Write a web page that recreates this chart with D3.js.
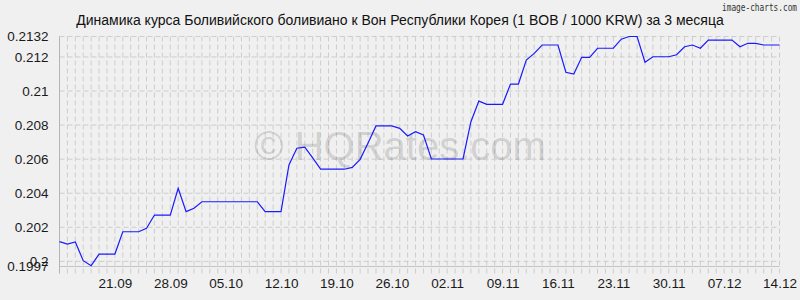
<!DOCTYPE html>
<html>
<head>
<meta charset="utf-8">
<script src="https://cdn.jsdelivr.net/npm/d3@7"></script>
<style>
  html, body { margin: 0; padding: 0; background: #f0f0f0; }
  svg { display: block; }
</style>
</head>
<body>
<svg id="chart"></svg>
<script>
    'use strict';

    var title = 'Динамика курса Боливийского боливиано к Вон Республики Корея (1 BOB / 1000 KRW) за 3 месяца';
    var startDay = '2020-09-14';
    var endDay = '2020-12-14';
    // one value per day, 14.09 .. 14.12
    var rates = [
        0.20116, 0.20102, 0.20114, 0.20004, 0.19975, 0.20043, 0.20043, 0.20043,
        0.20174, 0.20174, 0.20174, 0.20194, 0.20272, 0.20272, 0.20272, 0.20429,
        0.20292, 0.20312, 0.20350, 0.20350, 0.20350, 0.20350, 0.20350, 0.20350,
        0.20350, 0.20350, 0.20292, 0.20292, 0.20292, 0.20566, 0.20664, 0.20671,
        0.20607, 0.20541, 0.20541, 0.20541, 0.20541, 0.20552, 0.20599, 0.20695,
        0.20795, 0.20795, 0.20795, 0.20781, 0.20736, 0.20761, 0.20742, 0.20601,
        0.20601, 0.20601, 0.20601, 0.20601, 0.20820, 0.20941, 0.20922, 0.20922,
        0.20922, 0.21041, 0.21041, 0.21182, 0.21221, 0.21270, 0.21270, 0.21270,
        0.21110, 0.21100, 0.21198, 0.21198, 0.21251, 0.21251, 0.21251, 0.21304,
        0.21320, 0.21320, 0.21169, 0.21201, 0.21201, 0.21201, 0.21213, 0.21260,
        0.21270, 0.21251, 0.21299, 0.21299, 0.21299, 0.21299, 0.21260, 0.21280,
        0.21280, 0.21270, 0.21270, 0.21270
    ];
    var xTickLabels = ['21.09', '28.09', '05.10', '12.10', '19.10', '26.10', '02.11',
        '09.11', '16.11', '23.11', '30.11', '07.12', '14.12'];
    var yTickValues = [0.1997, 0.2, 0.202, 0.204, 0.206, 0.208, 0.21, 0.212, 0.2132];
    var yTickLabels = ['0.1997', '0.2', '0.202', '0.204', '0.206', '0.208', '0.21', '0.212', '0.2132'];

    (function() {
        var width = 800;
        var height = 300;
        var margin = { left: 59.5, right: 779.5, top: 36.5, bottom: 266.5 };
        var font = '"Liberation Sans", Arial, sans-serif';

        var parseDay = d3.utcParse('%Y-%m-%d');
        var parseLabel = d3.utcParse('%d.%m.%Y');
        var days = d3.utcDay.range(parseDay(startDay), d3.utcDay.offset(parseDay(endDay), 1));

        var scaleX = d3.scaleUtc()
            .domain([parseDay(startDay), parseDay(endDay)])
            .range([margin.left, margin.right]);

        var scaleY = d3.scaleLinear()
            .domain([yTickValues[0], yTickValues[yTickValues.length - 1]])
            .range([margin.bottom, margin.top]);

        var chart = d3.select('#chart')
            .attr('width', width)
            .attr('height', height)
            .style('font-family', font);

        chart.append('rect')
            .attr('width', width)
            .attr('height', height)
            .attr('fill', '#f0f0f0');

        // grid, one vertical line per day
        chart.append('g')
            .selectAll('line')
            .data(days)
            .join('line')
            .attr('x1', function(d) { return scaleX(d); })
            .attr('x2', function(d) { return scaleX(d); })
            .attr('y1', margin.top)
            .attr('y2', margin.bottom + 7)
            .attr('stroke', '#cdcdcd')
            .attr('stroke-dasharray', '5,3');

        chart.append('g')
            .selectAll('line')
            .data(yTickValues)
            .join('line')
            .attr('x1', margin.left)
            .attr('x2', margin.right)
            .attr('y1', function(d) { return scaleY(d); })
            .attr('y2', function(d) { return scaleY(d); })
            .attr('stroke', '#cdcdcd')
            .attr('stroke-dasharray', '5,3');

        // axis lines
        chart.append('line')
            .attr('x1', margin.left).attr('x2', margin.left)
            .attr('y1', margin.top).attr('y2', margin.bottom + 7)
            .attr('stroke', '#b4b4b4');
        chart.append('line')
            .attr('x1', margin.left).attr('x2', margin.right)
            .attr('y1', margin.bottom).attr('y2', margin.bottom)
            .attr('stroke', '#c4c4c4');

        // watermark
        chart.append('text')
            .attr('x', 400)
            .attr('y', 160)
            .attr('text-anchor', 'middle')
            .attr('font-size', 40)
            .attr('fill', '#000')
            .attr('fill-opacity', 0.15)
            .text('© HQRates.com');

        var line = d3.line()
            .x(function(d, i) { return scaleX(days[i]); })
            .y(function(d) { return scaleY(d); })
            .curve(d3.curveLinear);

        chart.append('path')
            .datum(rates)
            .attr('d', line)
            .attr('fill', 'none')
            .attr('stroke', '#1a1aff')
            .attr('stroke-width', 1.2);

        var yAxis = d3.axisLeft(scaleY)
            .tickValues(yTickValues)
            .tickFormat(function(d, i) { return yTickLabels[i]; })
            .tickSize(0)
            .tickPadding(11);

        chart.append('g')
            .attr('transform', 'translate(' + margin.left + ',0)')
            .call(yAxis)
            .call(function(g) { g.select('.domain').remove(); })
            .selectAll('text')
            .attr('font-family', font)
            .attr('font-size', 13.5)
            .attr('fill', '#1a1a1a');

        var xAxis = d3.axisBottom(scaleX)
            .tickValues(xTickLabels.map(function(s) {
                return parseLabel(s + '.' + startDay.slice(0, 4));
            }))
            .tickFormat(function(d, i) { return xTickLabels[i]; })
            .tickSize(0)
            .tickPadding(12);

        chart.append('g')
            .attr('transform', 'translate(0,' + margin.bottom + ')')
            .call(xAxis)
            .call(function(g) { g.select('.domain').remove(); })
            .selectAll('text')
            .attr('font-family', font)
            .attr('font-size', 13.5)
            .attr('fill', '#1a1a1a');

        chart.append('text')
            .attr('x', 400)
            .attr('y', 25)
            .attr('text-anchor', 'middle')
            .attr('font-size', 14)
            .attr('fill', '#111')
            .text(title);

        chart.append('text')
            .attr('x', 797)
            .attr('y', 11)
            .attr('text-anchor', 'end')
            .attr('font-family', '"DejaVu Sans Mono", monospace')
            .attr('font-size', 10)
            .attr('textLength', 75)
            .attr('lengthAdjust', 'spacingAndGlyphs')
            .attr('fill', '#333')
            .text('image-charts.com');
    }());
</script>
</body>
</html>
